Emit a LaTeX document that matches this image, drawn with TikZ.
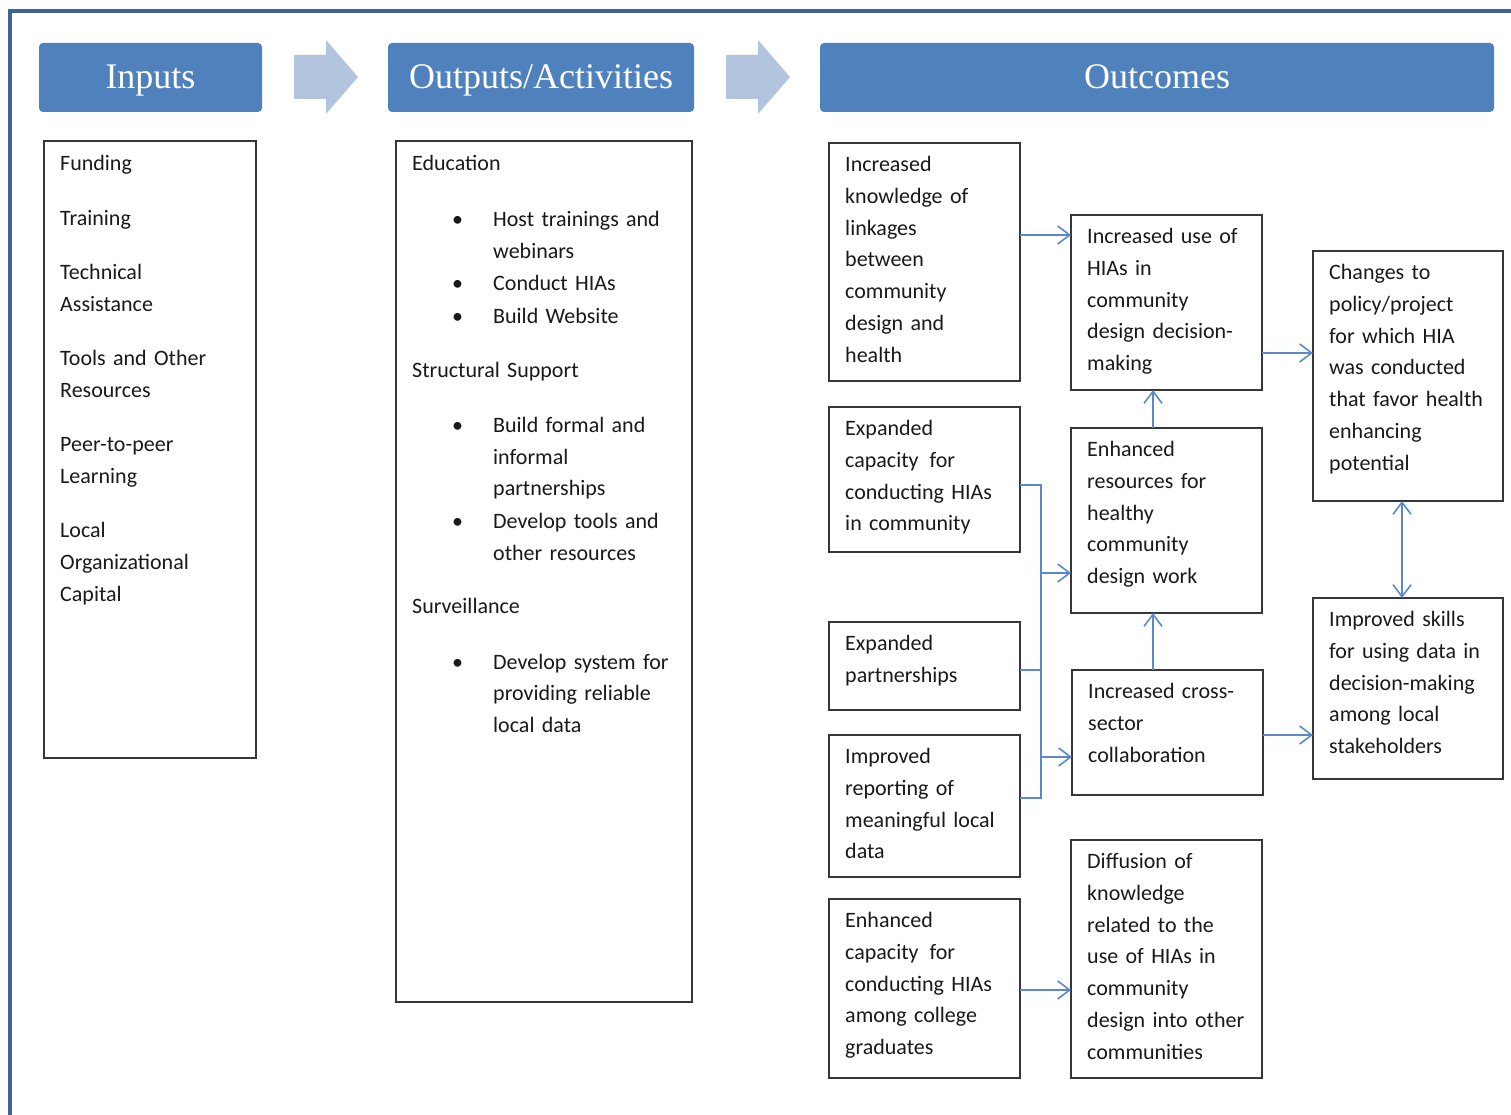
\documentclass[tikz,border=0pt]{standalone}
\usepackage{fontspec}
\setmainfont{Carlito}
\newfontfamily\hdrfont{Liberation Serif}
\usepackage{tikz}
\usetikzlibrary{arrows.meta}
\usetikzlibrary{positioning}

\definecolor{hdrblue}{RGB}{79,129,189}
\definecolor{arrowblue}{RGB}{179,196,223}
\definecolor{frameblue}{RGB}{62,99,148}
\definecolor{linkblue}{RGB}{91,137,200}
\definecolor{boxgray}{RGB}{55,55,55}

\newcommand\outbullet{\hspace*{40pt}\makebox[41pt][l]{\textbullet}}
\newcommand\outindent{\hspace*{81pt}}

\tikzset{
  hdr/.style={fill=hdrblue, rounded corners=4pt, anchor=north west, outer sep=0pt,
    minimum height=69pt, inner sep=0pt, text height=24pt, text depth=1pt,
    text=white, font=\hdrfont\fontsize{36}{40}\selectfont},
  box/.style={draw=boxgray, line width=1.8pt, anchor=north west, inner sep=0pt, outer sep=0pt},
  txt/.style={anchor=base west, inner sep=0pt, text width=200pt, align=left,
    text=black!90, font=\fontsize{22}{31.8}\selectfont},
  link/.style={draw=linkblue, line width=1.6pt, -{Straight Barb[length=12pt,width=18pt]}},
  dlink/.style={draw=linkblue, line width=1.6pt,
    {Straight Barb[length=12pt,width=18pt]}-{Straight Barb[length=12pt,width=18pt]}},
  feed/.style={draw=linkblue, line width=1.6pt},
}

\begin{document}
\begin{tikzpicture}[x=1pt, y=-1pt]
  \useasboundingbox (0,0) rectangle (1511,1115);
  \draw[frameblue, line width=4pt] (9.5,11.5) rectangle (1540,1140);

  % column headers
  \node[hdr, minimum width=223pt] (hin) at (39,43) {Inputs};
  \node[hdr, minimum width=306pt] (hout) at (388,43) {Outputs/Activities};
  \node[hdr, minimum width=674pt] (hoc) at (820,43) {Outcomes};
  \foreach \ax in {294,726}
    \fill[arrowblue, shift={(\ax,0)}] (0,55) -- (32,55) -- (32,40) -- (64,77)
      -- (32,114) -- (32,99) -- (0,99) -- cycle;

  % inputs
  \node[box, minimum width=212pt, minimum height=617pt] (inp) at (44,141) {};
  \node[txt] (inp-t) at ([shift={(16,30)}]inp.north west) {Funding\\[22.5pt]
    Training\\[22.5pt]
    Technical\\ Assistance\\[22.5pt]
    Tools and Other\\ Resources\\[22.5pt]
    Peer-to-peer\\ Learning\\[22.5pt]
    Local\\ Organizational\\ Capital};

  % outputs / activities
  \node[box, minimum width=296pt, minimum height=861pt] (outp) at (396,141) {};
  \node[txt, text width=290pt] (outp-t) at ([shift={(16,30)}]outp.north west) {Education\\[23.5pt]
    \outbullet Host trainings and\\ \outindent webinars\\[1pt]
    \outbullet Conduct HIAs\\[1pt]
    \outbullet Build Website\\[22.5pt]
    Structural Support\\[22.5pt]
    \outbullet Build formal and\\ \outindent informal\\ \outindent partnerships\\[1pt]
    \outbullet Develop tools and\\ \outindent other resources\\[21.5pt]
    Surveillance\\[23.5pt]
    \outbullet Develop system for\\ \outindent providing reliable\\ \outindent local data};

  % outcomes, first column
  \node[box, minimum width=191pt, minimum height=238pt] (kn) at (829,143) {};
  \node[txt] (kn-t) at ([shift={(16,28.5)}]kn.north west) {Increased\\ knowledge of\\ linkages\\
    between\\ community\\ design and\\ health};
  \node[box, minimum width=191pt, minimum height=145pt] (cap) at (829,407) {};
  \node[txt] (cap-t) at ([shift={(16,28.5)}]cap.north west) {Expanded\\ capacity\, for\\
    conducting HIAs\\ in community};
  \node[box, minimum width=191pt, minimum height=88pt] (par) at (829,622) {};
  \node[txt] (par-t) at ([shift={(16,28.5)}]par.north west) {Expanded\\ partnerships};
  \node[box, minimum width=191pt, minimum height=142pt] (rep) at (829,735) {};
  \node[txt] (rep-t) at ([shift={(16,28.5)}]rep.north west) {Improved\\ reporting of\\
    meaningful local\\ data};
  \node[box, minimum width=191pt, minimum height=179pt] (grad) at (829,899) {};
  \node[txt] (grad-t) at ([shift={(16,28.5)}]grad.north west) {Enhanced\\ capacity\, for\\
    conducting HIAs\\ among college\\ graduates};

  % outcomes, second column
  \node[box, minimum width=191pt, minimum height=175pt] (hu) at (1071,215) {};
  \node[txt] (hu-t) at ([shift={(16,28.5)}]hu.north west) {Increased use of\\ HIAs in\\
    community\\ design decision-\\ making};
  \node[box, minimum width=191pt, minimum height=185pt] (res) at (1071,428) {};
  \node[txt] (res-t) at ([shift={(16,28.5)}]res.north west) {Enhanced\\ resources for\\
    healthy\\ community\\ design work};
  \node[box, minimum width=191pt, minimum height=125pt] (col) at (1072,670) {};
  \node[txt] (col-t) at ([shift={(16,28.5)}]col.north west) {Increased cross-\\ sector\\
    collaboration};
  \node[box, minimum width=191pt, minimum height=238pt] (dif) at (1071,840) {};
  \node[txt] (dif-t) at ([shift={(16,28.5)}]dif.north west) {Diffusion of\\ knowledge\\
    related to the\\ use of HIAs in\\ community\\ design into other\\ communities};

  % outcomes, third column
  \node[box, minimum width=190pt, minimum height=250pt] (pol) at (1313,251) {};
  \node[txt] (pol-t) at ([shift={(16,28.5)}]pol.north west) {Changes to\\ policy/project\\
    for which HIA\\ was conducted\\ that favor health\\ enhancing\\ potential};
  \node[box, minimum width=190pt, minimum height=181pt] (sk) at (1313,598) {};
  \node[txt] (sk-t) at ([shift={(16,28.5)}]sk.north west) {Improved skills\\
    for using data in\\ decision-making\\ among local\\ stakeholders};

  % links between outcomes
  \draw[link] ([yshift=27pt]kn.east) -- ([yshift=27pt]kn.east -| hu.west);
  \draw[link] ([yshift=-50.5pt]hu.east) -- ([yshift=-50.5pt]hu.east -| pol.west);
  \draw[link] ([xshift=-13.5pt]res.north) -- ([xshift=-13.5pt]res.north |- hu.south);
  \draw[link] ([xshift=-14.5pt]col.north) -- ([xshift=-14.5pt]col.north |- res.south);
  \draw[link] ([yshift=-2.5pt]col.east) -- ([yshift=-2.5pt]col.east -| sk.west);
  \draw[dlink] ([xshift=-6pt]pol.south) -- ([xshift=-6pt]pol.south |- sk.north);
  \draw[link] ([yshift=-1.5pt]grad.east) -- ([yshift=-1.5pt]grad.east -| dif.west);

  % bracket joining capacity, partnerships and reporting
  \coordinate (bus) at ([xshift=21pt]cap.east);
  \draw[feed] ([yshift=-5.5pt]cap.east) -| ([yshift=8pt]rep.east -| bus) -- ([yshift=8pt]rep.east);
  \draw[feed] ([yshift=-4pt]par.east) -- ([yshift=-4pt]par.east -| bus);
  \draw[link] ([yshift=-52.5pt]res.west -| bus) -- ([yshift=-52.5pt]res.west);
  \draw[link] ([yshift=-24.5pt]col.west -| bus) -- ([yshift=-24.5pt]col.west);
\end{tikzpicture}
\end{document}
